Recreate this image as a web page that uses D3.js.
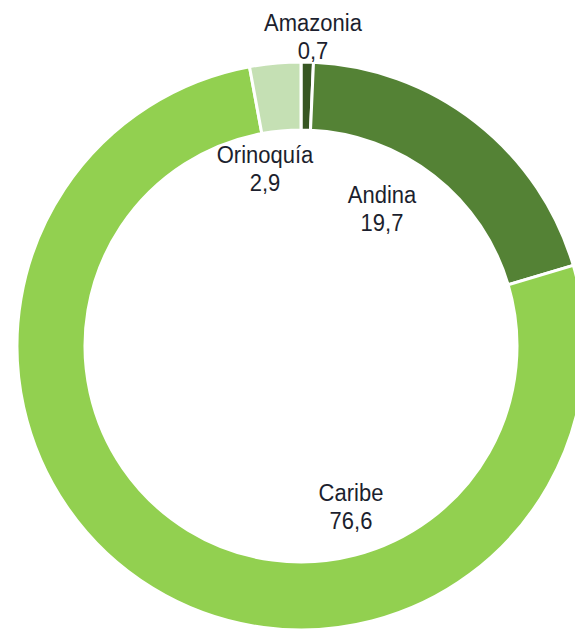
<!DOCTYPE html>
<html>
<head>
<meta charset="utf-8">
<script src="https://cdn.jsdelivr.net/npm/d3@7/dist/d3.min.js"></script>
<style>
  html, body { margin: 0; padding: 0; background: #fff; }
  svg { display: block; }
  .lbl { font-family: "Liberation Sans", Arial, sans-serif; font-size: 22px; fill: #1c1f2e; }
</style>
</head>
<body>
<div id="chart"></div>
<script>
// Share by region (%), clockwise from 12 o'clock
const regions = ["Amazonia", "Andina", "Caribe", "Orinoquía"];
const shares = [0.7, 19.7, 76.6, 2.9];
const valueLabels = ["0,7", "19,7", "76,6", "2,9"];

const colors = ["#375623", "#548235", "#92d050", "#c5e0b4"];
// Label anchor points relative to the ring centre
const labelOffsets = [[12, -312], [81, -140], [50, 158], [-36, -180]];

const W = 575, H = 632;
const cx = 301, cy = 346, rOuter = 284, rInner = 216;

const svg = d3.select("#chart").append("svg")
  .attr("width", W).attr("height", H);

const g = svg.append("g").attr("transform", `translate(${cx},${cy})`);

const pie = d3.pie().sort(null).value(d => d)(shares);
const arc = d3.arc().innerRadius(rInner).outerRadius(rOuter);

g.selectAll("path.slice")
  .data(pie)
  .join("path")
  .attr("class", "slice")
  .attr("d", arc)
  .attr("fill", (d, i) => colors[i])
  .attr("stroke", "#fff")
  .attr("stroke-width", 3)
  .attr("stroke-linejoin", "miter");

const labels = g.selectAll("g.lbl")
  .data(pie)
  .join("g")
  .attr("transform", (d, i) => `translate(${labelOffsets[i][0]},${labelOffsets[i][1]}) scale(1,1.12)`);

labels.append("text")
  .attr("class", "lbl")
  .attr("text-anchor", "middle")
  .attr("y", -3)
  .text((d, i) => regions[i]);

labels.append("text")
  .attr("class", "lbl")
  .attr("text-anchor", "middle")
  .attr("y", 22)
  .text((d, i) => valueLabels[i]);
</script>
</body>
</html>
